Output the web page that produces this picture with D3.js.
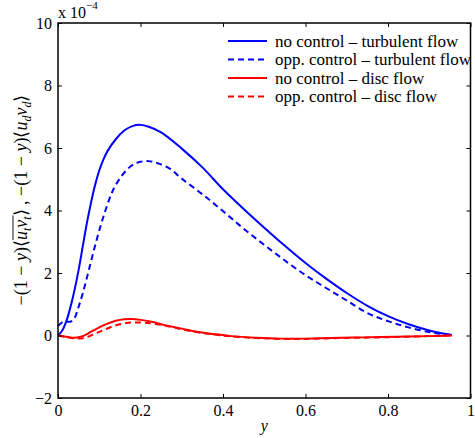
<!DOCTYPE html>
<html><head><meta charset="utf-8">
<script src="https://cdn.jsdelivr.net/npm/d3@7"></script>
<style>
body{margin:0;background:#fff;}
text{font-family:"Liberation Serif","Times New Roman",serif;}
</style></head>
<body><svg id="c" width="475" height="438"></svg>
<script>
// ---- data (values in units of 1e-4) ----
const xTicks = [0, 0.2, 0.4, 0.6, 0.8, 1];
const yTicks = [-2, 0, 2, 4, 6, 8, 10];
const seriesNames = ["no control \u2013 turbulent flow", "opp. control \u2013 turbulent flow", "no control \u2013 disc flow", "opp. control \u2013 disc flow"];

const turbNoX = [0,0.01,0.02,0.03,0.04,0.05,0.06,0.07,0.08,0.09,0.10,0.11,0.12,0.14,0.16,0.18,0.20,0.22,0.25,0.30,0.35,0.40,0.45,0.50,0.55,0.60,0.65,0.70,0.75,0.80,0.85,0.90,0.93,0.955];
const turbNoY = [0,0.15,0.45,0.9,1.45,2.1,2.85,3.6,4.25,4.82,5.28,5.63,5.9,6.28,6.55,6.7,6.74,6.68,6.5,5.98,5.38,4.68,4.05,3.45,2.87,2.32,1.82,1.36,0.95,0.62,0.36,0.16,0.07,0.02];

const turbOppX = [0,0.01,0.02,0.03,0.04,0.05,0.06,0.07,0.08,0.09,0.10,0.11,0.12,0.13,0.14,0.16,0.18,0.20,0.22,0.24,0.27,0.30,0.35,0.40,0.45,0.50,0.55,0.60,0.65,0.70,0.75,0.80,0.85,0.90,0.93,0.955];
const turbOppY = [0.3,0.42,0.45,0.44,0.56,0.92,1.35,1.85,2.37,2.88,3.36,3.8,4.2,4.55,4.82,5.2,5.45,5.56,5.58,5.52,5.35,5.02,4.52,3.98,3.42,2.9,2.4,1.93,1.52,1.12,0.72,0.46,0.26,0.11,0.05,0.02];

const discNoX = [0,0.02,0.04,0.06,0.08,0.10,0.12,0.14,0.16,0.18,0.20,0.23,0.256,0.30,0.337,0.38,0.42,0.48,0.54,0.60,0.66,0.74,0.82,0.90,0.955];
const discNoY = [0,-0.04,-0.07,-0.02,0.12,0.26,0.38,0.47,0.52,0.53,0.5,0.43,0.34,0.22,0.12,0.04,-0.02,-0.07,-0.1,-0.1,-0.08,-0.06,-0.04,-0.02,0];

const discOppX = [0,0.02,0.05,0.07,0.09,0.11,0.13,0.15,0.17,0.19,0.21,0.24,0.27,0.30,0.34,0.38,0.42,0.48,0.54,0.60,0.66,0.74,0.82,0.90,0.955];
const discOppY = [0,-0.05,-0.1,-0.05,0.06,0.17,0.28,0.36,0.41,0.42,0.41,0.36,0.29,0.2,0.1,0.03,-0.03,-0.08,-0.11,-0.11,-0.09,-0.07,-0.05,-0.02,0];

const series = [
  {name: seriesNames[0], xs: turbNoX, ys: turbNoY, color: "#0000ff", dash: null},
  {name: seriesNames[1], xs: turbOppX, ys: turbOppY, color: "#0000ff", dash: "6,4"},
  {name: seriesNames[2], xs: discNoX, ys: discNoY, color: "#ff0000", dash: null},
  {name: seriesNames[3], xs: discOppX, ys: discOppY, color: "#ff0000", dash: "6,4"}
];

// ---- layout ----
const L = 58, T = 23, W = 412.5, H = 375;
const svg = d3.select("#c");
const x = d3.scaleLinear().domain([0, 1]).range([L, L + W]);
const y = d3.scaleLinear().domain([-2, 10]).range([T + H, T]);

const g = svg.append("g");
const line = d3.line().x(d => x(d[0])).y(d => y(d[1])).curve(d3.curveCatmullRom.alpha(0.5));

series.forEach(s => {
  const pts = s.xs.map((v, i) => [v, s.ys[i]]);
  g.append("path").attr("d", line(pts)).attr("fill", "none")
    .attr("stroke", s.color).attr("stroke-width", 2)
    .attr("stroke-dasharray", s.dash);
});

// axes box
const tk = 4;
const axB = d3.axisBottom(x).tickValues(xTicks).tickSize(-tk).tickPadding(7).tickFormat(d3.format("~g"));
const axT = d3.axisTop(x).tickValues(xTicks).tickSize(-tk).tickFormat("");
const axL = d3.axisLeft(y).tickValues(yTicks).tickSize(-tk).tickPadding(6).tickFormat(d => d < 0 ? "\u2212" + Math.abs(d) : d);
const axR = d3.axisRight(y).tickValues(yTicks).tickSize(-tk).tickFormat("");

function style(sel){
  sel.select(".domain").remove();
  sel.selectAll("line").attr("stroke", "#000").attr("stroke-width", 1);
  sel.selectAll("text").attr("font-size", 16).attr("fill", "#000").attr("font-family", "Liberation Serif");
}
svg.append("g").attr("transform", `translate(0,${T + H})`).call(axB).call(style);
svg.append("g").attr("transform", `translate(0,${T})`).call(axT).call(style);
svg.append("g").attr("transform", `translate(${L},0)`).call(axL).call(style);
svg.append("g").attr("transform", `translate(${L + W},0)`).call(axR).call(style);
svg.append("rect").attr("x", L).attr("y", T).attr("width", W).attr("height", H)
  .attr("fill", "none").attr("stroke", "#000").attr("stroke-width", 1.5);

// exponent label
const ex = svg.append("text").attr("x", 58).attr("y", 18).attr("font-size", 16);
ex.append("tspan").text("x 10");
ex.append("tspan").attr("dy", -9).attr("font-size", 11).text("\u22124");

// x label
svg.append("text").attr("x", x(0.5)).attr("y", 431).attr("text-anchor", "middle")
  .attr("font-size", 16).attr("font-style", "italic").text("y");

// y label
const ylg = svg.append("g").attr("transform", "translate(27,200) rotate(-90)");
const yl = ylg.append("text").attr("x", 0).attr("y", 0)
  .attr("text-anchor", "middle").attr("font-size", 18);
yl.append("tspan").text("\u2212(1 \u2212 ");
yl.append("tspan").attr("font-style", "italic").text("y");
yl.append("tspan").text(")\u27e8");
yl.append("tspan").attr("font-style", "italic").text("u");
yl.append("tspan").attr("font-style", "italic").attr("font-size", 12).attr("dy", 4).text("t");
yl.append("tspan").attr("font-style", "italic").attr("dy", -4).text("v");
yl.append("tspan").attr("font-style", "italic").attr("font-size", 12).attr("dy", 4).text("t");
yl.append("tspan").attr("dy", -4).text("\u27e9  ,  \u2212(1 \u2212 ");
yl.append("tspan").attr("font-style", "italic").text("y");
yl.append("tspan").text(")\u27e8");
yl.append("tspan").attr("font-style", "italic").text("u");
yl.append("tspan").attr("font-style", "italic").attr("font-size", 12).attr("dy", 4).text("d");
yl.append("tspan").attr("font-style", "italic").attr("dy", -4).text("v");
yl.append("tspan").attr("font-style", "italic").attr("font-size", 12).attr("dy", 4).text("d");
yl.append("tspan").attr("dy", -4).text("\u27e9");
// overline over u_t v_t (chars 9..12)
const tn = yl.node();
const p0 = tn.getStartPositionOfChar(9), p1 = tn.getEndPositionOfChar(12);
ylg.append("line").attr("x1", p0.x).attr("x2", p1.x + 1).attr("y1", -14).attr("y2", -14)
  .attr("stroke", "#000").attr("stroke-width", 0.9);

// legend
const lg = svg.append("g");
series.forEach((s, i) => {
  const yy = 41 + i * 18.5;
  lg.append("line").attr("x1", 228).attr("x2", 267).attr("y1", yy).attr("y2", yy)
    .attr("stroke", s.color).attr("stroke-width", 2).attr("stroke-dasharray", s.dash);
  lg.append("text").attr("x", 275).attr("y", yy + 5.5).attr("font-size", 17).text(s.name);
});
</script></body></html>
